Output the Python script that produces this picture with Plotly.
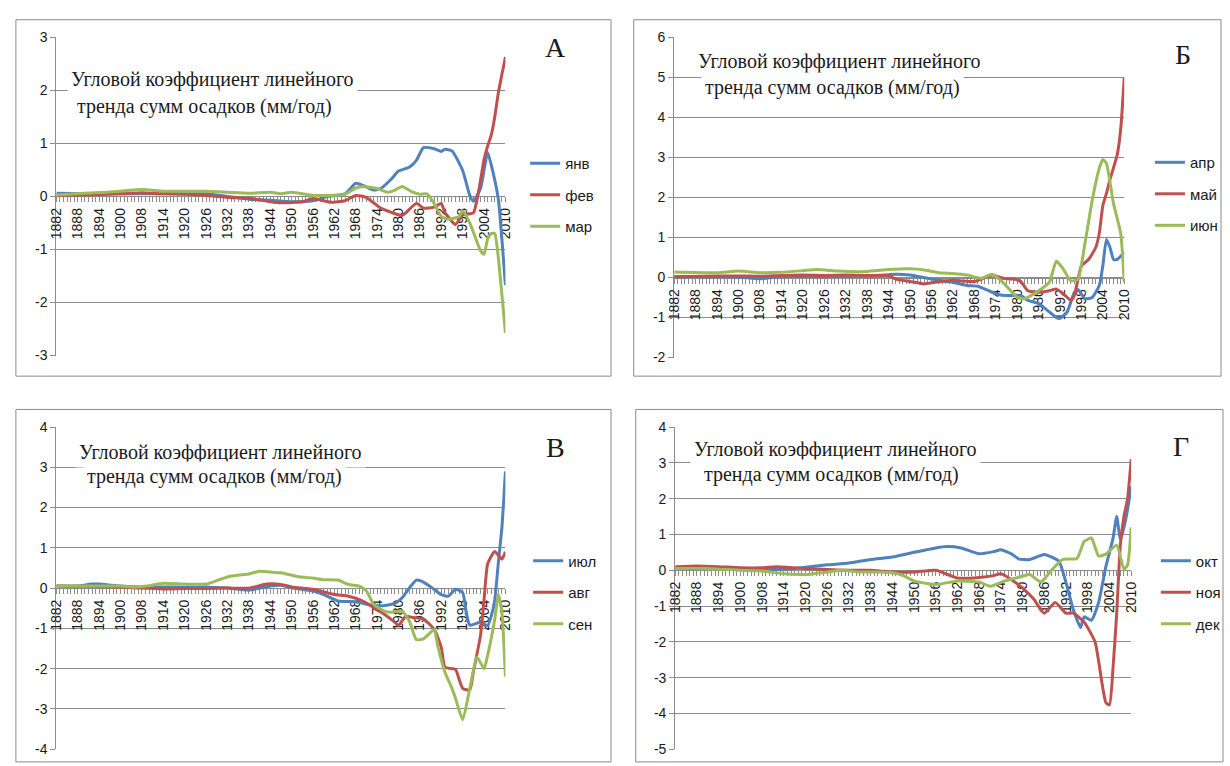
import numpy as np
import plotly.graph_objects as go

W, H = 1230, 766

# x-axis tick labels (equally spaced categories on the original chart)
label_years = [1882, 1888, 1894, 1900, 1908, 1914, 1920, 1926, 1932, 1938, 1944,
               1950, 1956, 1962, 1968, 1974, 1980, 1986, 1992, 1998, 2004, 2010]
label_pos = [6 * i for i in range(len(label_years))]

# ---------------- Panel А ----------------
jan_years = [1882, 1890, 1900, 1910, 1920, 1926, 1932, 1938, 1944, 1950, 1956, 1960, 1965, 1968, 1970,
             1973, 1975, 1978, 1980, 1983, 1985, 1987, 1990, 1992, 1993, 1995, 1998, 2000, 2001, 2003,
             2005, 2006, 2008, 2009, 2010]
jan_vals = [0.06, 0.05, 0.05, 0.05, 0.05, 0.05, 0.0, -0.05, -0.07, -0.1, -0.08, 0.0, 0.05, 0.25, 0.21,
            0.12, 0.15, 0.33, 0.48, 0.55, 0.68, 0.92, 0.9, 0.85, 0.89, 0.86, 0.49, 0.02, -0.09, 0.15,
            0.83, 0.6, -0.05, -0.8, -1.67]
feb_years = [1882, 1890, 1900, 1908, 1914, 1920, 1926, 1932, 1938, 1944, 1947, 1953, 1956, 1961, 1965,
             1968, 1971, 1975, 1978, 1981, 1982, 1985, 1987, 1990, 1992, 1993, 1996, 1998, 2001, 2002,
             2003, 2004, 2005, 2006, 2007, 2008, 2009, 2010]
feb_vals = [0.02, 0.03, 0.05, 0.07, 0.05, 0.04, 0.02, -0.02, -0.03, -0.1, -0.12, -0.1, -0.04, -0.11, -0.08,
            0.02, -0.02, -0.22, -0.3, -0.36, -0.31, -0.13, -0.22, -0.2, -0.13, -0.3, -0.53, -0.35, -0.31, -0.07,
            0.3, 0.7, 0.95, 1.15, 1.5, 1.95, 2.3, 2.63]
mar_years = [1882, 1890, 1896, 1900, 1908, 1914, 1920, 1926, 1932, 1938, 1944, 1947, 1950, 1956, 1960,
             1965, 1968, 1970, 1974, 1977, 1979, 1981, 1984, 1986, 1988, 1990, 1992, 1994, 1997, 1998,
             2000, 2003, 2004, 2005, 2006, 2007, 2008, 2009, 2010]
mar_vals = [0.03, 0.06, 0.08, 0.1, 0.13, 0.1, 0.1, 0.1, 0.08, 0.06, 0.08, 0.05, 0.08, 0.02, 0.02,
            0.04, 0.16, 0.19, 0.15, 0.08, 0.12, 0.19, 0.08, 0.04, 0.05, -0.13, -0.38, -0.43, -0.38, -0.27,
            -0.5, -1.02, -1.09, -0.8, -0.7, -0.7, -1.15, -1.85, -2.57]

# ---------------- Panel Б ----------------
apr_years = [1882, 1890, 1900, 1908, 1914, 1920, 1926, 1932, 1940, 1946, 1950, 1956, 1962, 1966, 1969,
             1972, 1975, 1977, 1981, 1983, 1986, 1989, 1991, 1992, 1994, 1996, 1997, 1999, 2001, 2003,
             2004, 2005, 2006, 2007, 2008, 2010]
apr_vals = [0.02, 0.02, 0.01, -0.03, 0.02, 0.03, 0.02, 0.03, 0.04, 0.08, 0.06, -0.04, -0.12, -0.2, -0.22,
            -0.33, -0.43, -0.45, -0.45, -0.57, -0.65, -0.86, -1.0, -1.02, -0.86, -0.37, -0.3, -0.53, -0.5, -0.2,
            0.3, 0.95, 0.75, 0.45, 0.45, 0.63]
may_years = [1882, 1890, 1900, 1908, 1914, 1920, 1926, 1932, 1938, 1944, 1946, 1950, 1954, 1957, 1962,
             1968, 1970, 1973, 1976, 1979, 1981, 1983, 1986, 1989, 1991, 1993, 1995, 1996, 1998, 2000,
             2002, 2003, 2004, 2005, 2006, 2008, 2009, 2010]
may_vals = [0.02, 0.03, 0.04, 0.03, 0.05, 0.06, 0.05, 0.06, 0.05, 0.05, -0.04, -0.1, -0.16, -0.12, -0.07,
            -0.1, -0.04, 0.06, -0.02, -0.04, -0.1, -0.33, -0.37, -0.33, -0.29, -0.41, -0.57, -0.45, 0.29, 0.45,
            0.75, 1.1, 1.8, 2.1, 2.45, 3.06, 3.71, 5.0]
jun_years = [1882, 1894, 1900, 1908, 1914, 1920, 1924, 1930, 1938, 1944, 1950, 1954, 1958, 1962, 1966,
             1970, 1973, 1976, 1980, 1982, 1986, 1989, 1991, 1993, 1995, 1997, 1999, 2001, 2003, 2004,
             2005, 2007, 2009, 2010]
jun_vals = [0.14, 0.12, 0.16, 0.12, 0.13, 0.17, 0.2, 0.16, 0.15, 0.2, 0.22, 0.19, 0.12, 0.1, 0.06,
            -0.02, 0.08, -0.12, -0.49, -0.53, -0.33, -0.12, 0.41, 0.2, -0.08, -0.05, 0.86, 1.92, 2.73, 2.95,
            2.85, 1.84, 1.1, -0.12]

# ---------------- Panel В ----------------
jul_years = [1882, 1888, 1892, 1894, 1900, 1908, 1914, 1920, 1926, 1932, 1938, 1944, 1947, 1950, 1956,
             1959, 1963, 1968, 1971, 1975, 1979, 1981, 1983, 1985, 1987, 1990, 1992, 1994, 1996, 1998,
             1999, 2000, 2003, 2005, 2006, 2007, 2008, 2009, 2010]
jul_vals = [0.05, 0.05, 0.1, 0.1, 0.05, 0.02, 0.03, 0.02, 0.03, 0.0, -0.05, 0.05, 0.07, 0.01, -0.07,
            -0.16, -0.32, -0.34, -0.4, -0.44, -0.38, -0.24, 0.0, 0.2, 0.15, -0.03, -0.16, -0.2, -0.03, -0.11,
            -0.6, -0.92, -0.85, -0.93, -0.7, -0.3, 0.62, 1.5, 2.9]
aug_years = [1882, 1894, 1900, 1908, 1914, 1920, 1926, 1932, 1938, 1943, 1947, 1950, 1956, 1962, 1966,
             1970, 1973, 1976, 1979, 1980, 1982, 1984, 1987, 1990, 1992, 1993, 1995, 1996, 1998, 2000,
             2001, 2003, 2004, 2005, 2007, 2009, 2010]
aug_vals = [0.05, 0.04, 0.03, 0.0, -0.02, -0.01, -0.01, 0.0, 0.0, 0.1, 0.09, 0.03, -0.03, -0.16, -0.2,
            -0.32, -0.48, -0.65, -0.85, -0.93, -0.7, -0.73, -0.77, -1.02, -1.47, -1.96, -2.0, -2.02, -2.49, -2.53,
            -2.08, -1.18, -0.28, 0.6, 0.91, 0.72, 0.9]
sep_years = [1882, 1890, 1900, 1905, 1910, 1914, 1920, 1926, 1930, 1933, 1938, 1941, 1944, 1947, 1952,
             1956, 1959, 1963, 1966, 1969, 1971, 1973, 1976, 1978, 1981, 1983, 1985, 1987, 1989, 1990,
             1991, 1993, 1995, 1996, 1998, 2000, 2002, 2004, 2005, 2007, 2008, 2009, 2010]
sep_vals = [0.05, 0.05, 0.05, 0.03, 0.06, 0.12, 0.1, 0.1, 0.22, 0.3, 0.35, 0.42, 0.4, 0.38, 0.28,
            0.25, 0.21, 0.2, 0.09, 0.05, -0.07, -0.4, -0.57, -0.6, -0.57, -0.81, -1.28, -1.26, -1.1, -1.02,
            -1.43, -2.08, -2.49, -2.74, -3.27, -2.49, -1.71, -2.0, -1.67, -0.77, -0.16, -0.6, -2.2]

# ---------------- Panel Г ----------------
oct_years = [1882, 1890, 1900, 1908, 1914, 1920, 1926, 1932, 1938, 1944, 1950, 1956, 1959, 1963, 1968,
             1972, 1974, 1977, 1979, 1982, 1986, 1990, 1992, 1994, 1996, 1997, 1999, 2001, 2003, 2004,
             2005, 2006, 2007, 2008, 2009, 2010]
oct_vals = [0.05, 0.05, 0.05, 0.03, 0.02, 0.08, 0.15, 0.2, 0.3, 0.37, 0.5, 0.62, 0.66, 0.62, 0.46,
            0.52, 0.57, 0.45, 0.31, 0.3, 0.44, 0.25, -0.35, -1.1, -1.6, -1.3, -1.4, -0.9, 0.1, 0.5,
            0.9, 1.5, 0.85, 1.2, 1.7, 2.35]
nov_years = [1882, 1888, 1894, 1900, 1908, 1912, 1920, 1926, 1932, 1938, 1944, 1950, 1956, 1962, 1968,
             1972, 1974, 1977, 1980, 1983, 1986, 1989, 1992, 1994, 1997, 2000, 2002, 2003, 2004, 2005,
             2006, 2007, 2008, 2009, 2010]
nov_vals = [0.1, 0.12, 0.1, 0.07, 0.07, 0.1, 0.05, 0.02, 0.0, 0.0, -0.05, -0.05, 0.0, -0.22, -0.2,
            -0.15, -0.1, -0.27, -0.5, -0.8, -1.2, -0.9, -1.2, -1.2, -1.45, -2.0, -3.2, -3.7, -3.76, -2.7,
            -1.2, 0.7, 1.5, 2.0, 3.1]
dec_years = [1882, 1890, 1900, 1908, 1914, 1920, 1926, 1930, 1935, 1940, 1944, 1947, 1950, 1956, 1962,
             1968, 1971, 1975, 1980, 1982, 1985, 1988, 1991, 1995, 1997, 1999, 2001, 2003, 2006, 2008,
             2009, 2010]
dec_vals = [0.05, 0.05, 0.0, -0.02, -0.1, -0.12, -0.05, 0.0, -0.05, -0.05, -0.07, -0.15, -0.3, -0.4, -0.3,
            -0.33, -0.45, -0.3, -0.17, -0.12, -0.33, 0.0, 0.3, 0.33, 0.8, 0.9, 0.4, 0.45, 0.7, 0.02,
            0.15, 1.2]

BLUE, RED, GREEN = "#4F81BD", "#C0504D", "#9BBB59"
GRID = "#8c8c8c"
TXT = "#1a1a1a"
SERIF = "Liberation Serif, Times New Roman, DejaVu Serif, serif"
SANS = "Liberation Sans, Arial, sans-serif"
TITLE1 = "Угловой коэффициент линейного"
TITLE2 = "тренда сумм осадков (мм/год)"


def px(x):
    return x / W


def py(y):
    return 1 - y / H


panels = [
    dict(letter="А", xl=49, xr=504, yt=30, yb=355, rng=[-3, 3],
         series=[("янв", jan_years, jan_vals, BLUE), ("фев", feb_years, feb_vals, RED),
                 ("мар", mar_years, mar_vals, GREEN)],
         box=(8, 12, 611, 376), leg=(524, 142), letter_xy=(555, 40),
         t1=(207, 73), t2=(199, 101)),
    dict(letter="Б", xl=675, xr=1131, yt=30, yb=357, rng=[-2, 6],
         series=[("апр", apr_years, apr_vals, BLUE), ("май", may_years, may_vals, RED),
                 ("июн", jun_years, jun_vals, GREEN)],
         box=(634, 12, 1229, 376), leg=(1157, 141), letter_xy=(1190, 48),
         t1=(842, 55), t2=(835, 81)),
    dict(letter="В", xl=49, xr=504, yt=428, yb=757, rng=[-4, 4],
         series=[("июл", jul_years, jul_vals, BLUE), ("авг", aug_years, aug_vals, RED),
                 ("сен", sep_years, sep_vals, GREEN)],
         box=(8, 410, 611, 770), leg=(527, 548), letter_xy=(555, 449),
         t1=(215, 454), t2=(209, 478)),
    dict(letter="Г", xl=676, xr=1138, yt=428, yb=757, rng=[-5, 4],
         series=[("окт", oct_years, oct_vals, BLUE), ("ноя", nov_years, nov_vals, RED),
                 ("дек", dec_years, dec_vals, GREEN)],
         box=(636, 410, 1231, 770), leg=(1163, 548), letter_xy=(1188, 448),
         t1=(838, 451), t2=(834, 476)),
]

fig = go.Figure()
shapes, annotations = [], []
layout = {}

for i, p in enumerate(panels):
    n = i + 1
    sfx = "" if n == 1 else str(n)
    xa, ya = "x" + sfx, "y" + sfx
    legname = "legend" + sfx
    for name, yrs, vals, col in p["series"]:
        fig.add_trace(go.Scatter(
            x=np.interp(yrs, label_years, label_pos), y=vals, mode="lines", name=name,
            line=dict(color=col, width=3, shape="spline", smoothing=0.5),
            xaxis=xa, yaxis=ya, legend=legname,
            legendgroup=name, showlegend=True, hoverinfo="skip"))
    lo, hi = p["rng"]
    y0p, y1p = py(p["yb"]), py(p["yt"])
    zero_pos = y0p + (0 - lo) / (hi - lo) * (y1p - y0p)
    yticks = list(range(lo, hi + 1))
    layout["xaxis" + sfx] = dict(
        domain=[px(p["xl"]), px(p["xr"])], range=[0, 126], anchor="free", position=zero_pos,
        tickmode="array", tickvals=label_pos, ticktext=[str(v) for v in label_years],
        tickangle=-90, tickfont=dict(family=SANS, size=14, color=TXT),
        ticks="outside", ticklen=5, tickcolor=GRID, showline=True, linecolor=GRID, linewidth=1,
        showgrid=False, zeroline=False, layer="below traces",
        minor=dict(tickmode="linear", tick0=0, dtick=1, ticks="outside", ticklen=5,
                   tickcolor=GRID, showgrid=False))
    layout["yaxis" + sfx] = dict(
        domain=[y0p, y1p], range=[lo, hi], anchor=xa,
        tickmode="array", tickvals=yticks, ticktext=[str(v) for v in yticks],
        tickfont=dict(family=SANS, size=14, color=TXT),
        ticks="outside", ticklen=5, tickcolor=GRID, showline=True, linecolor=GRID, linewidth=1,
        showgrid=True, gridcolor=GRID, gridwidth=1, zeroline=False, layer="below traces")
    layout[legname] = dict(
        x=px(p["leg"][0]), y=py(p["leg"][1]), xanchor="left", yanchor="top",
        font=dict(family=SANS, size=15, color=TXT), bgcolor="rgba(0,0,0,0)",
        tracegroupgap=9, itemwidth=30)
    bx0, by0, bx1, by1 = p["box"]
    shapes.append(dict(type="rect", xref="paper", yref="paper", x0=px(bx0), x1=px(bx1),
                       y0=py(by1), y1=py(by0), line=dict(color="#8a8a8a", width=1),
                       fillcolor="rgba(0,0,0,0)", layer="below"))
    for txt, (tx, ty) in ((TITLE1, p["t1"]), (TITLE2, p["t2"])):
        annotations.append(dict(text=txt, xref="paper", yref="paper", x=px(tx), y=py(ty),
                                xanchor="center", yanchor="middle", showarrow=False,
                                font=dict(family=SERIF, size=20, color=TXT),
                                bgcolor="white", borderpad=3))
    lx, ly = p["letter_xy"]
    annotations.append(dict(text=p["letter"], xref="paper", yref="paper", x=px(lx), y=py(ly),
                            xanchor="center", yanchor="middle", showarrow=False,
                            font=dict(family=SERIF, size=28, color=TXT)))

fig.update_layout(width=W, height=H, margin=dict(l=0, r=0, t=0, b=0),
                  paper_bgcolor="white", plot_bgcolor="white",
                  shapes=shapes, annotations=annotations, **layout)
fig.write_html("out.html", config={"displayModeBar": False},
               post_script="document.body.style.margin='0';document.body.style.overflow='hidden';")
